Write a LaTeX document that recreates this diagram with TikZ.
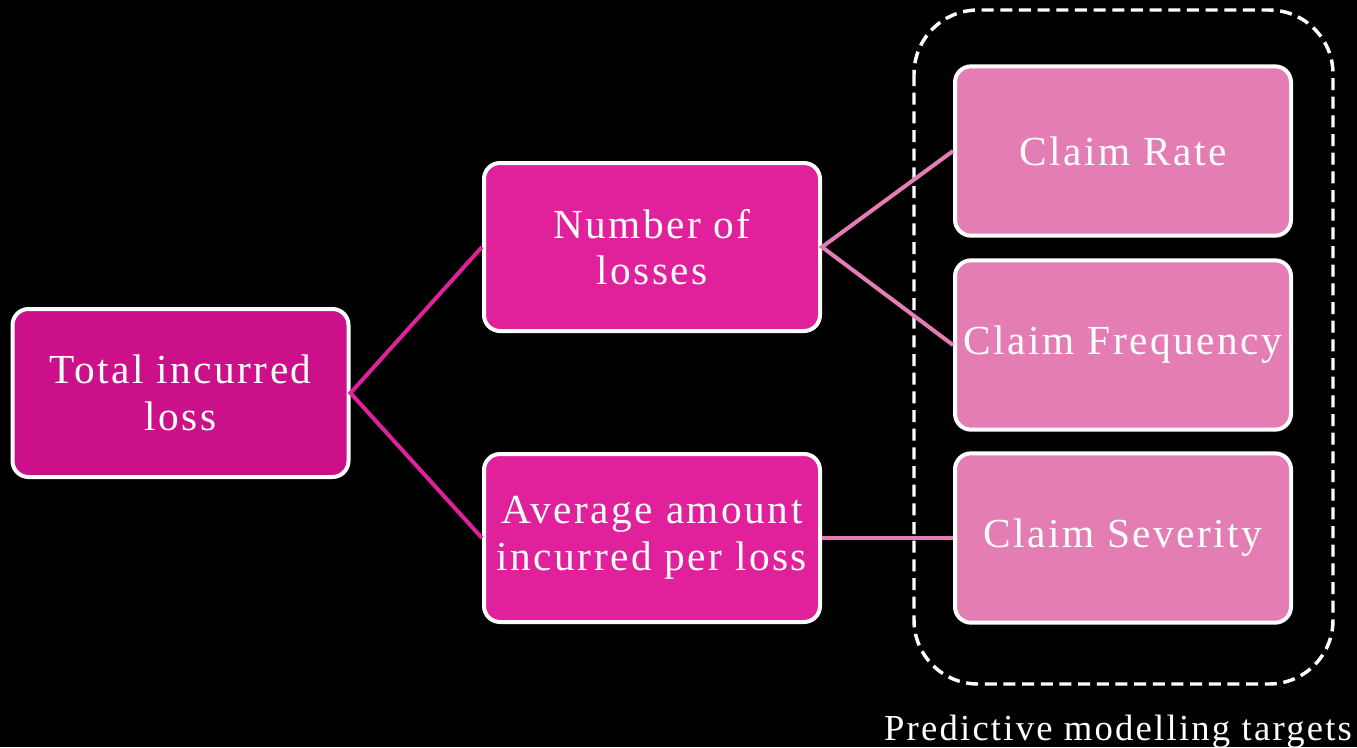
\documentclass[tikz,border=0pt]{standalone}
\usepackage{fontspec}
\setmainfont{Liberation Serif}[LetterSpace=6]
\begin{document}
\begin{tikzpicture}[x=0.75pt,y=-0.75pt,
  box/.style={draw=white,line width=3pt,rounded corners=12pt,align=center,
    text=white,font=\fontsize{31}{35}\selectfont,inner sep=0pt},
  lvl1/.style={box,fill=root},
  lvl2/.style={box,fill=mid},
  lvl3/.style={box,fill=leaf},
  link/.style={line width=3pt}]
\definecolor{root}{HTML}{CB108A}
\definecolor{mid}{HTML}{E0219B}
\definecolor{leaf}{HTML}{E57DB5}
\fill[black] (0,0) rectangle (1357,747);
\useasboundingbox (0,0) rectangle (1357,747);

% dashed group around the modelling targets
\draw[white,line width=2.6pt,dash pattern=on 9pt off 5pt,rounded corners=48pt]
  (914,10) rectangle (1333,684);
\node[text=white,font=\fontsize{27.5}{30}\selectfont,anchor=base,inner sep=0pt] (cap) at (1118,740) {Predictive modelling targets};

\node[lvl1,minimum width=252pt,minimum height=126pt] (total) at (180.5,393) {Total incurred\\loss};
\node[lvl2,minimum width=252pt,minimum height=126pt] (num) at (652,247) {Number of\\losses};
\node[lvl2,minimum width=252pt,minimum height=126pt] (avg) at (652,538) {Average amount\\incurred per loss};
\node[lvl3,minimum width=252pt,minimum height=127pt] (rate) at (1123,151) {Claim Rate};
\node[lvl3,minimum width=252pt,minimum height=127pt] (freq) at (1123,345) {Claim Frequency};
\node[lvl3,minimum width=252pt,minimum height=127pt] (sev) at (1123,538) {Claim Severity};

\draw[link,mid] (num.west) -- (total.east) -- (avg.west);
\draw[link,leaf] (rate.west) -- (num.east) -- (freq.west);
\draw[link,leaf] (avg.east) -- (sev.west);
\end{tikzpicture}
\end{document}
